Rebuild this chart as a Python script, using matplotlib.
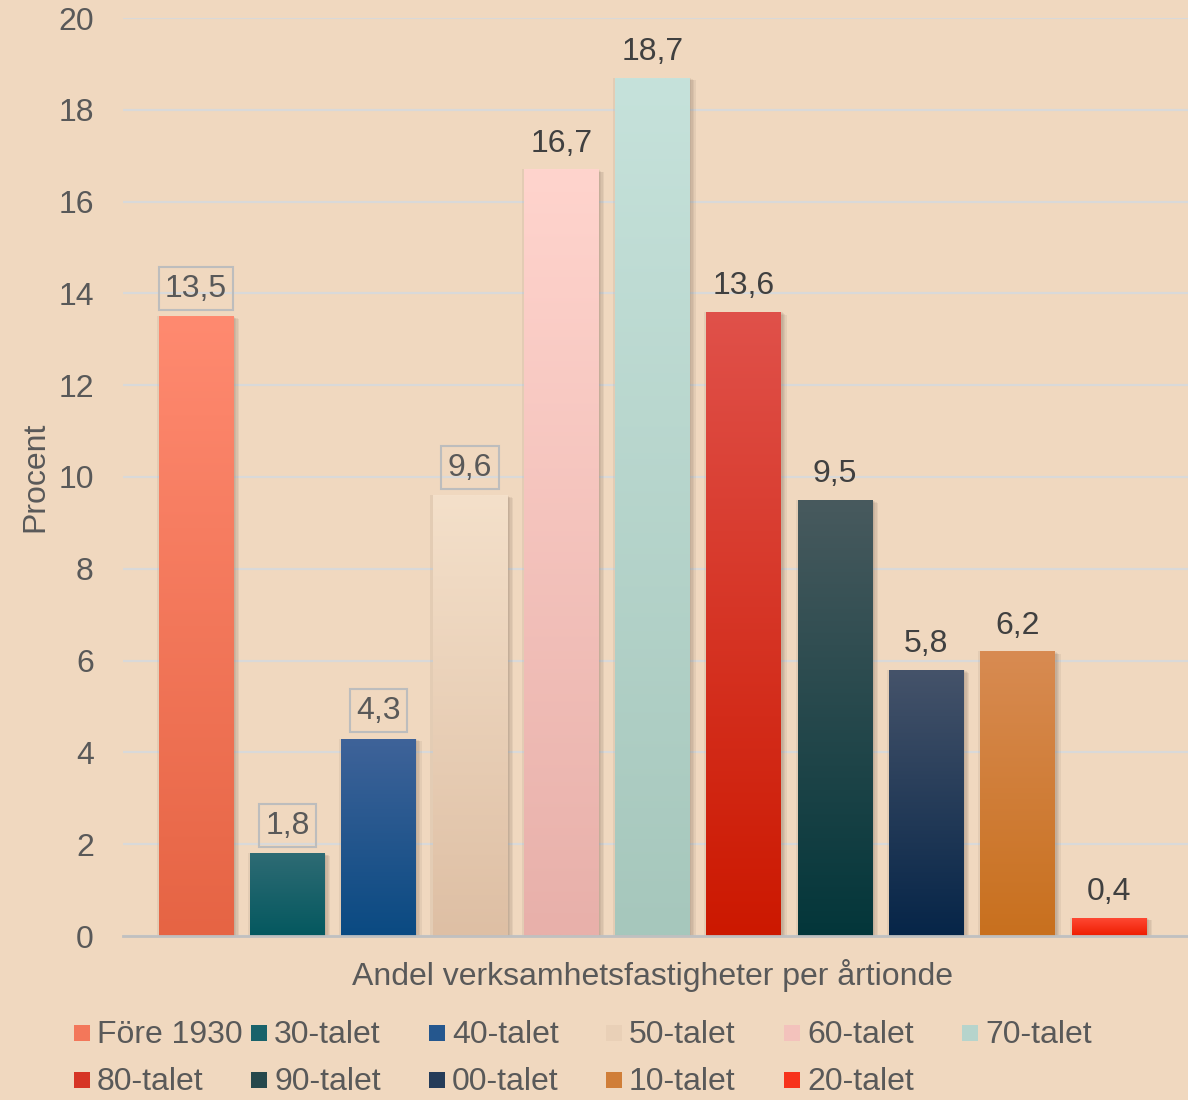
import numpy as np
import matplotlib
matplotlib.use("Agg")
import matplotlib.pyplot as plt
import matplotlib.patheffects as pe
from matplotlib.colors import to_rgb
from matplotlib.patches import Rectangle

plt.rcParams['font.family'] = ['Liberation Sans', 'DejaVu Sans']

# data
categories = ["Före 1930", "30-talet", "40-talet", "50-talet", "60-talet", "70-talet",
              "80-talet", "90-talet", "00-talet", "10-talet", "20-talet"]
values = [13.5, 1.8, 4.3, 9.6, 16.7, 18.7, 13.6, 9.5, 5.8, 6.2, 0.4]
boxed = [True, True, True, True, False, False, False, False, False, False, False]
top_colors = ["#FF8A70", "#2E6B74", "#3F6399", "#F4E0CA", "#FFD4CD", "#C6E2DB",
              "#E0514A", "#485A5E", "#45536A", "#D88B52", "#FF4A35"]
bottom_colors = ["#E66444", "#04585F", "#0A4A82", "#DEBFA4", "#E8B0AA", "#A6C7BC",
                 "#CC1800", "#03363A", "#062548", "#C8701E", "#EE1C00"]

bg = "#F0D8BF"
tick_col = "#595959"
label_col = "#404040"
fs = 23

W, H = 1188, 1100
fig = plt.figure(figsize=(W / 100, H / 100), dpi=100, facecolor=bg)
ax = fig.add_axes([123 / W, 1 - 936 / H, 1 - 123 / W, (936 - 18) / H])
ax.set_facecolor(bg)

x = np.arange(len(values))
bw = 0.82
shadow = [pe.SimplePatchShadow(offset=o, shadow_rgbFace="#6a5a4a", alpha=0.09)
          for o in [(-1.5, 0), (1, -0.5), (2, -1), (3, -1.5), (4, -2)]]
bars = ax.bar(x, values, width=bw, color=bottom_colors, zorder=3,
              path_effects=shadow + [pe.Normal()])

# vertical gradients clipped to each bar
for i, b in enumerate(bars):
    t = np.array(to_rgb(top_colors[i]))
    btm = np.array(to_rgb(bottom_colors[i]))
    s = np.linspace(0, 1, 256)[:, None]
    grad = (t * (1 - s) + btm * s)[:, None, :]
    im = ax.imshow(grad, extent=[b.get_x(), b.get_x() + b.get_width(), 0, b.get_height()],
                   aspect="auto", origin="upper", zorder=4, interpolation="bilinear")
    im.set_clip_path(b)

# data labels
for i, v in enumerate(values):
    lbl = f"{v:.1f}".replace(".", ",")
    kw = {}
    col = label_col
    off = 18.5
    if boxed[i]:
        col = tick_col
        off = 20
        kw["bbox"] = dict(boxstyle="square,pad=0.2", facecolor="none", edgecolor="#BDBDBD", lw=1.5)
    ax.annotate(lbl, (x[i], v), xytext=(0, off), textcoords="offset points",
                ha="center", va="center", fontsize=fs, color=col, zorder=5, **kw)

ax.set_xlim(-0.8, 10.865)
ax.set_ylim(0, 20)
ax.set_yticks(np.arange(0, 21, 2))
ax.set_xticks([])
ax.tick_params(axis="y", length=0, pad=21, labelsize=fs, labelcolor=tick_col)
ax.grid(axis="y", color="#D9D9D9", lw=1.6, zorder=0)
for s in ["top", "right", "left"]:
    ax.spines[s].set_visible(False)
ax.spines["bottom"].set_color("#C0C0C0")
ax.spines["bottom"].set_linewidth(2)
ax.spines["bottom"].set_zorder(6)

fig.text(35 / W, 1 - 477 / H, "Procent", rotation=90, ha="center", va="center",
         fontsize=fs, color=tick_col)
fig.text(652 / W, 1 - 975 / H, "Andel verksamhetsfastigheter per årtionde",
         ha="center", va="center", fontsize=fs, color=tick_col)

# legend, laid out row-wise in six columns
col_x = [74, 251, 429, 606, 784, 962]
row_y = [1033, 1080]
for i, name in enumerate(categories):
    r, c = divmod(i, 6)
    mid = 0.5 * (np.array(to_rgb(top_colors[i])) + np.array(to_rgb(bottom_colors[i])))
    fig.patches.append(Rectangle((col_x[c] / W, 1 - (row_y[r] + 8) / H), 16 / W, 16 / H,
                                 transform=fig.transFigure, facecolor=mid, edgecolor="none"))
    fig.text((col_x[c] + 23) / W, 1 - (row_y[r] + 2) / H, name, ha="left", va="center",
             fontsize=fs, color=tick_col)

fig.savefig("out.png", dpi=100, facecolor=bg)
